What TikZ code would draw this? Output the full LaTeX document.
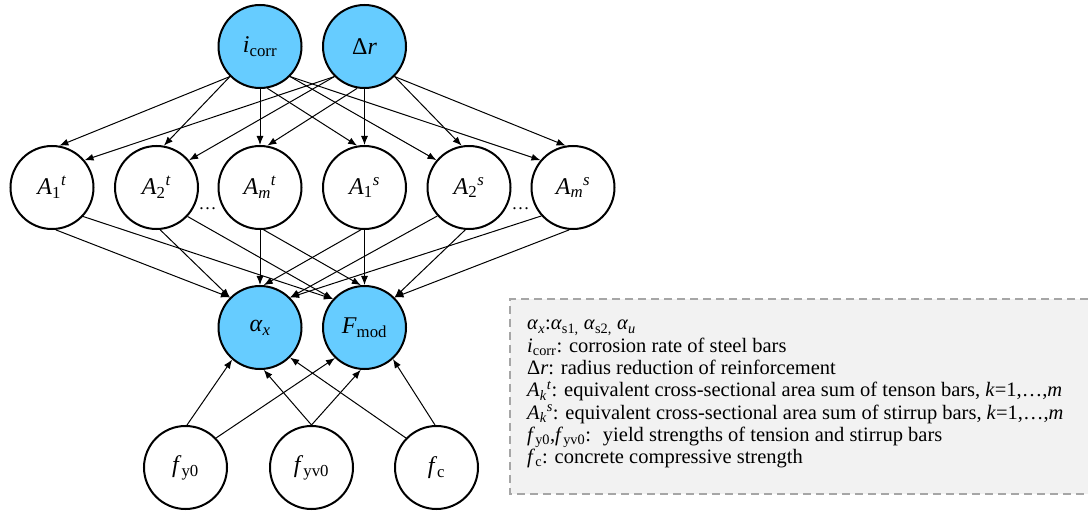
\documentclass[tikz,border=0pt]{standalone}
\usepackage{fontspec}
\setmainfont{Liberation Serif}
\usetikzlibrary{arrows.meta}
\definecolor{nodeblue}{HTML}{66CCFF}
\definecolor{legfill}{HTML}{F2F2F2}
\definecolor{legline}{HTML}{A6A6A6}
\begin{document}
\begin{tikzpicture}[x=1pt,y=-1pt,
  every node/.style={font=\rmfamily\fontsize{24}{28}\selectfont},
  var/.style={circle, draw=black, line width=2pt, minimum size=83pt, inner sep=0pt},
  obs/.style={var, fill=nodeblue},
  edge/.style={line width=1pt, -{Latex[length=9pt,width=7pt]}},
  legtext/.style={anchor=base west, font=\rmfamily\fontsize{20.5}{24}\selectfont, inner sep=0pt},
  dots/.style={anchor=base, inner sep=0pt, font=\rmfamily\fontsize{18}{22}\selectfont},
]
\useasboundingbox (0,0) rectangle (1088,513);

% legend box
\fill[legfill] (510,299) rectangle (1088,494);
\draw[legline, line width=1.5pt, dash pattern=on 8pt off 5pt] (1088,299) -- (510,299) -- (510,494) -- (1088,494);

% top
\node[obs] (icorr) at (260,46.5) {\textit{i}\textsubscript{corr}};
\node[obs] (dr) at (364.5,46.5) {Δ\textit{r}};

% middle
\node[var] (A1t) at (52,187.5) {\textit{A}\textsubscript{1}\textsuperscript{\textit{t}}};
\node[var] (A2t) at (156.5,187.5) {\textit{A}\textsubscript{2}\textsuperscript{\textit{t}}};
\node[var] (Amt) at (260,187.5) {\textit{A}\textsubscript{\textit{m}}\textsuperscript{\textit{t}}};
\node[var] (A1s) at (364.5,187.5) {\textit{A}\textsubscript{1}\textsuperscript{\textit{s}}};
\node[var] (A2s) at (469,187.5) {\textit{A}\textsubscript{2}\textsuperscript{\textit{s}}};
\node[var] (Ams) at (573,187.5) {\textit{A}\textsubscript{\textit{m}}\textsuperscript{\textit{s}}};
\node[dots] (dots1) at (207.5,210) {…};
\node[dots] (dots2) at (520.5,210) {…};

% blue lower
\node[obs] (ax) at (260,327.5) {\textit{α}\textsubscript{\textit{x}}};
\node[obs] (Fmod) at (364.5,327.5) {\textit{F}\textsubscript{mod}};

% bottom
\node[var] (fy0) at (185.5,467.5) {\textit{f}\textsubscript{y0}};
\node[var] (fyv0) at (311.5,467.5) {\textit{f}\textsubscript{yv0}};
\node[var] (fc) at (436.5,467.5) {\textit{f}\textsubscript{c}};

% top -> middle
\draw[edge] (icorr.225) -- (A1t.80);
\draw[edge] (icorr.225) -- (A2t.80);
\draw[edge] (icorr.south) -- (Amt.north);
\draw[edge] (icorr.280) -- (A1s.100);
\draw[edge] (icorr.315) -- (A2s.140);
\draw[edge] (icorr.315) -- (Ams.140);
\draw[edge] (dr.225) -- (A1t.40);
\draw[edge] (dr.225) -- (A2t.40);
\draw[edge] (dr.260) -- (Amt.80);
\draw[edge] (dr.south) -- (A1s.north);
\draw[edge] (dr.315) -- (A2s.100);
\draw[edge] (dr.315) -- (Ams.100);

% middle -> blue lower
\draw[edge] (A1t.275) -- (ax.135);
\draw[edge] (A1t.317) -- (Fmod.138);
\draw[edge] (A2t.275) -- (ax.135);
\draw[edge] (A2t.317) -- (Fmod.138);
\draw[edge] (Amt.south) -- (ax.north);
\draw[edge] (Amt.275) -- (Fmod.95);
\draw[edge] (A1s.265) -- (ax.85);
\draw[edge] (A1s.south) -- (Fmod.north);
\draw[edge] (A2s.222) -- (ax.45);
\draw[edge] (A2s.265) -- (Fmod.45);
\draw[edge] (Ams.222) -- (ax.45);
\draw[edge] (Ams.265) -- (Fmod.45);

% bottom -> blue lower
\draw[edge] (fy0.88) -- (ax.229);
\draw[edge] (fy0.44) -- (Fmod.226);
\draw[edge] (fyv0.north) -- (ax.275);
\draw[edge] (fyv0.north) -- (Fmod.265);
\draw[edge] (fc.136) -- (ax.315);
\draw[edge] (fc.92) -- (Fmod.312);

% legend text
\node[legtext] (l1) at (527,330) {\textit{α}\textsubscript{\textit{x}}:\textit{α}\textsubscript{s1,} \textit{α}\textsubscript{s2,} \textit{α}\textsubscript{\textit{u}}};
\node[legtext] (l2) at (527,352.3) {\textit{i}\textsubscript{corr}: corrosion rate of steel bars};
\node[legtext] (l3) at (527,374.6) {Δ\textit{r}: radius reduction of reinforcement};
\node[legtext] (l4) at (527,396.9) {\textit{A}\textsubscript{\textit{k}}\textsuperscript{\textit{t}}: equivalent cross-sectional area sum of tenson bars, \textit{k}=1,…,\textit{m}};
\node[legtext] (l5) at (527,419.2) {\textit{A}\textsubscript{\textit{k}}\textsuperscript{\textit{s}}: equivalent cross-sectional area sum of stirrup bars, \textit{k}=1,…,\textit{m}};
\node[legtext] (l6) at (527,441.5) {\textit{f}\textsubscript{y0},\textit{f}\textsubscript{yv0}:~ yield strengths of tension and stirrup bars};
\node[legtext] (l7) at (527,463.8) {\textit{f}\textsubscript{c}: concrete compressive strength};
\end{tikzpicture}
\end{document}
